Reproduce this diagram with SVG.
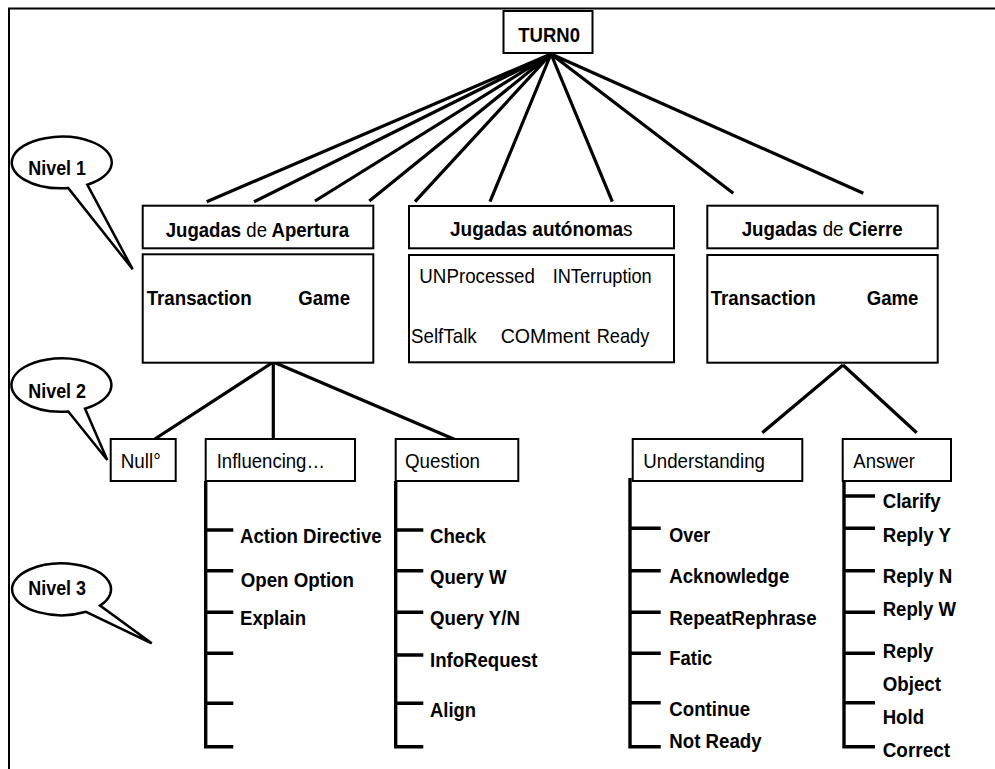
<svg xmlns="http://www.w3.org/2000/svg" width="995" height="769" viewBox="0 0 995 769">
<style>
.box{fill:#fff;stroke:#000;stroke-width:2}
.ln{stroke:#000;stroke-width:3.2;fill:none;stroke-linecap:butt}
.br{stroke:#000;stroke-width:3.4;fill:none}
.call{fill:#fff;stroke:#000;stroke-width:2.5;stroke-linejoin:miter}
.b{font-family:"Liberation Sans",Arial,sans-serif;font-weight:bold;font-size:21px;fill:#000}
.r{font-family:"Liberation Sans",Arial,sans-serif;font-weight:normal;font-size:21px;fill:#000}
</style>
<rect width="995" height="769" fill="#fff"/>
<path d="M9,769 V8.5 H995" fill="none" stroke="#000" stroke-width="2"/>

<g id="connectors">
<path class="ln" d="M551,54 L206.7,201.7 M551,54 L254,201.7 M551,54 L315,201 M551,54 L369.3,201 M551,54 L415,201.7 M551,54 L490,201.7 M551,54 L612.3,201.7 M551,54 L733.3,193.3 M551,54 L863.3,193.3"/>
<path class="ln" d="M273.3,362 L153.3,440 M273.3,362 L273.3,440 M273.3,362 L456,440"/>
<path class="ln" d="M843,365 L762.3,432.7 M843,365 L916.7,432.7"/>
<path class="br" d="M205.7,481 V746.7 H233.3 M205.7,530 H233.3 M205.7,570.7 H233.3 M205.7,612.3 H233.3 M205.7,653.3 H233.3 M205.7,703.3 H233.3"/>
<path class="br" d="M395.7,481 V746.7 H423.3 M395.7,530 H423.3 M395.7,570.7 H423.3 M395.7,612.3 H423.3 M395.7,655 H423.3 M395.7,703.3 H423.3"/>
<path class="br" d="M630,478 V746.7 H660.7 M630,528.3 H660.7 M630,570.7 H660.7 M630,612.3 H660.7 M630,653.3 H660.7 M630,702.7 H660.7"/>
<path class="br" d="M844,478 V746.7 H875 M844,496 H875 M844,528.3 H875 M844,570.7 H875 M844,612.3 H875 M844,653.3 H875 M844,702.7 H875"/>
</g>

<g id="turn0">
<rect class="box" x="503.5" y="11" width="89" height="42"/>
<text class="b" x="518.3" y="41.5" textLength="61.7" lengthAdjust="spacingAndGlyphs">TURN0</text>
</g>

<g id="apertura">
<rect class="box" x="142.7" y="205.7" width="230.6" height="42.6"/>
<text class="b" transform="translate(165.7,236.5) scale(0.886,1)">Jugadas <tspan class="r">de</tspan> Apertura</text>
<rect class="box" x="142.7" y="254.3" width="230.6" height="108.4"/>
<text class="b" x="146.7" y="305" textLength="105" lengthAdjust="spacingAndGlyphs">Transaction</text>
<text class="b" x="298.3" y="305" textLength="51.7" lengthAdjust="spacingAndGlyphs">Game</text>
</g>

<g id="autonomas">
<rect class="box" x="409" y="206" width="265" height="42.3"/>
<text class="b" transform="translate(450,236) scale(0.905,1)">Jugadas autónoma<tspan class="r">s</tspan></text>
<rect class="box" x="409" y="255" width="265" height="107.3"/>
<text class="r" x="419.3" y="283.3" textLength="115.7" lengthAdjust="spacingAndGlyphs">UNProcessed</text>
<text class="r" x="552.7" y="283.3" textLength="99" lengthAdjust="spacingAndGlyphs">INTerruption</text>
<text class="r" x="411" y="343.3" textLength="65.7" lengthAdjust="spacingAndGlyphs">SelfTalk</text>
<text class="r" x="500.7" y="343.3" textLength="89.3" lengthAdjust="spacingAndGlyphs">COMment</text>
<text class="r" x="596.7" y="343.3" textLength="52.6" lengthAdjust="spacingAndGlyphs">Ready</text>
</g>

<g id="cierre">
<rect class="box" x="707.3" y="205.7" width="230.4" height="42.6"/>
<text class="b" transform="translate(741.7,236) scale(0.89,1)">Jugadas <tspan class="r">de</tspan> Cierre</text>
<rect class="box" x="707.3" y="255" width="230.4" height="107.7"/>
<text class="b" x="710.7" y="305" textLength="105" lengthAdjust="spacingAndGlyphs">Transaction</text>
<text class="b" x="866.7" y="305" textLength="51.7" lengthAdjust="spacingAndGlyphs">Game</text>
</g>

<g id="null">
<rect class="box" x="110.7" y="439" width="65" height="42"/>
<text class="r" x="120.7" y="468" textLength="40" lengthAdjust="spacingAndGlyphs">Null°</text>
</g>

<g id="influencing">
<rect class="box" x="205.7" y="439" width="149.3" height="42"/>
<text class="r" x="216.7" y="468.3" textLength="108.3" lengthAdjust="spacingAndGlyphs">Influencing…</text>
<text class="b" x="240" y="542.7" textLength="141.7" lengthAdjust="spacingAndGlyphs">Action Directive</text>
<text class="b" x="240.7" y="586.7" textLength="113.3" lengthAdjust="spacingAndGlyphs">Open Option</text>
<text class="b" x="240" y="625" textLength="66" lengthAdjust="spacingAndGlyphs">Explain</text>
</g>

<g id="question">
<rect class="box" x="395.7" y="439" width="122.6" height="42"/>
<text class="r" x="405" y="468.3" textLength="75" lengthAdjust="spacingAndGlyphs">Question</text>
<text class="b" x="430" y="542.7" textLength="56" lengthAdjust="spacingAndGlyphs">Check</text>
<text class="b" x="430" y="584" textLength="76.5" lengthAdjust="spacingAndGlyphs">Query W</text>
<text class="b" x="430" y="625" textLength="90" lengthAdjust="spacingAndGlyphs">Query Y/N</text>
<text class="b" x="430" y="666.7" textLength="107.5" lengthAdjust="spacingAndGlyphs">InfoRequest</text>
<text class="b" x="430" y="716.7" textLength="46" lengthAdjust="spacingAndGlyphs">Align</text>
</g>

<g id="understanding">
<rect class="box" x="632.7" y="439" width="169.6" height="42"/>
<text class="r" x="643.3" y="468.3" textLength="121.7" lengthAdjust="spacingAndGlyphs">Understanding</text>
<text class="b" x="669.3" y="541.7" textLength="41" lengthAdjust="spacingAndGlyphs">Over</text>
<text class="b" x="669.3" y="582.7" textLength="120" lengthAdjust="spacingAndGlyphs">Acknowledge</text>
<text class="b" x="669.3" y="625" textLength="147.3" lengthAdjust="spacingAndGlyphs">RepeatRephrase</text>
<text class="b" x="669.3" y="665" textLength="43" lengthAdjust="spacingAndGlyphs">Fatic</text>
<text class="b" x="669.3" y="716" textLength="80.7" lengthAdjust="spacingAndGlyphs">Continue</text>
<text class="b" x="669.3" y="748.3" textLength="92.3" lengthAdjust="spacingAndGlyphs">Not Ready</text>
</g>

<g id="answer">
<rect class="box" x="842.7" y="439" width="108.3" height="42"/>
<text class="r" x="853.3" y="468" textLength="61.7" lengthAdjust="spacingAndGlyphs">Answer</text>
<text class="b" x="882.7" y="507.7" textLength="58" lengthAdjust="spacingAndGlyphs">Clarify</text>
<text class="b" x="882.7" y="541.7" textLength="68.3" lengthAdjust="spacingAndGlyphs">Reply Y</text>
<text class="b" x="882.7" y="582.7" textLength="69.7" lengthAdjust="spacingAndGlyphs">Reply N</text>
<text class="b" x="882.7" y="616" textLength="73.3" lengthAdjust="spacingAndGlyphs">Reply W</text>
<text class="b" x="882.7" y="658.3" textLength="50.7" lengthAdjust="spacingAndGlyphs">Reply</text>
<text class="b" x="882.7" y="691" textLength="58.3" lengthAdjust="spacingAndGlyphs">Object</text>
<text class="b" x="882.7" y="724.3" textLength="41.3" lengthAdjust="spacingAndGlyphs">Hold</text>
<text class="b" x="882.7" y="756.7" textLength="67.3" lengthAdjust="spacingAndGlyphs">Correct</text>
</g>

<g id="nivel1">
<path class="call" d="M68.3,188.1 A50,25.8 0 1 1 87.3,184.7 L132.7,269.3 Z"/>
<text class="b" x="28.3" y="175" textLength="57.7" lengthAdjust="spacingAndGlyphs">Nivel 1</text>
</g>
<g id="nivel2">
<path class="call" d="M68.3,411.5 A50,26.7 0 1 1 85,408.6 L107.3,460 Z"/>
<text class="b" x="28.3" y="398.3" textLength="57.7" lengthAdjust="spacingAndGlyphs">Nivel 2</text>
</g>
<g id="nivel3">
<path class="call" d="M86,611.8 A49.5,25.9 0 1 1 100,605.6 L151.7,643.3 Z"/>
<text class="b" x="28.3" y="595" textLength="57.7" lengthAdjust="spacingAndGlyphs">Nivel 3</text>
</g>
</svg>
